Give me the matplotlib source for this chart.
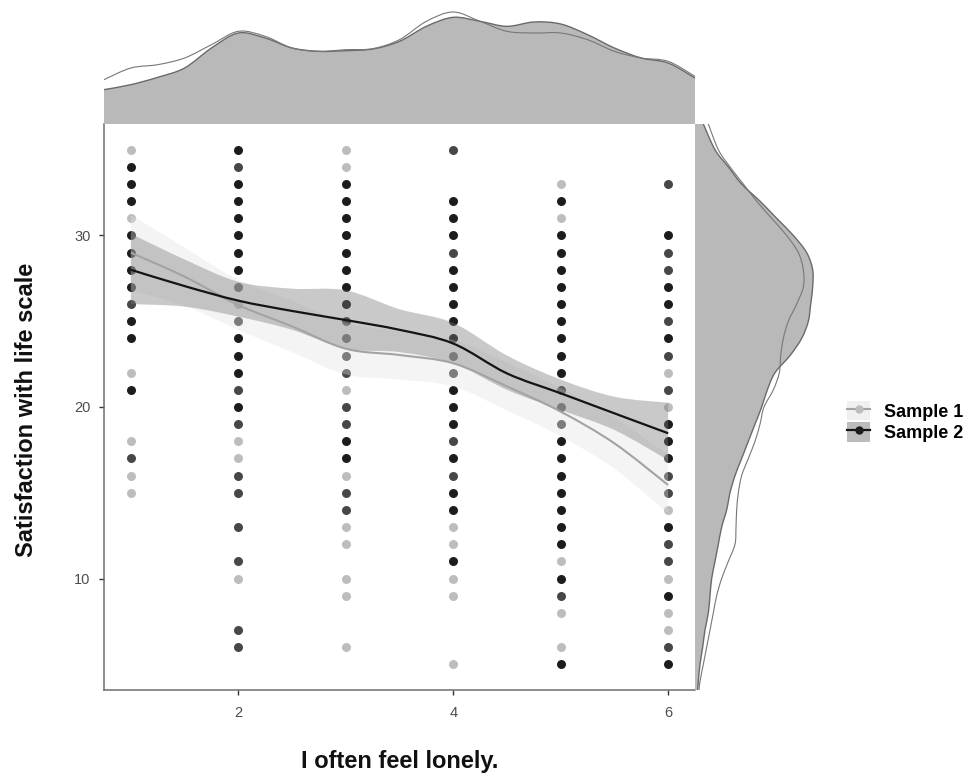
import numpy as np
import matplotlib
matplotlib.use("Agg")
import matplotlib.pyplot as plt
from matplotlib.lines import Line2D
from matplotlib.patches import Patch, PathPatch
from matplotlib.path import Path
from matplotlib.legend_handler import HandlerTuple

plt.rcParams['font.family'] = ['Liberation Sans', 'DejaVu Sans']

# answers on the "I often feel lonely." item (1-6) vs. SWLS score
# light = Sample 1 only, dark / mid = Sample 2 (many / few respondents)
s1_light = {
    1: [35, 31, 22, 18, 16, 15],
    2: [26, 18, 17, 10],
    3: [35, 34, 21, 16, 13, 12, 10, 9, 6],
    4: [13, 12, 10, 9, 5],
    5: [33, 31, 11, 8, 6],
    6: [22, 20, 14, 10, 8, 7],
}
s2_dark = {
    1: [34, 33, 32, 30, 29, 28, 27, 25, 24, 21],
    2: [35, 33, 32, 31, 30, 29, 28, 24, 23, 22, 20],
    3: [33, 32, 31, 30, 29, 28, 27, 26, 18, 17],
    4: [32, 31, 30, 28, 27, 26, 25, 24, 21, 20, 19, 17, 15, 14, 11],
    5: [32, 30, 29, 28, 27, 26, 25, 24, 23, 22, 18, 17, 16, 15, 14, 13, 12, 10, 5],
    6: [30, 27, 26, 24, 19, 18, 17, 13, 9, 5],
}
s2_mid = {
    1: [26, 17],
    2: [34, 27, 25, 21, 19, 16, 15, 13, 11, 7, 6],
    3: [25, 24, 23, 22, 20, 19, 15, 14],
    4: [35, 29, 23, 22, 18, 16],
    5: [21, 20, 19, 9],
    6: [33, 29, 28, 25, 23, 21, 16, 15, 12, 11, 6],
}

# loess fits with confidence bands
smooth_x = [1, 1.5, 2, 2.5, 3, 3.5, 4, 4.5, 5, 5.5, 6]
s1_fit = [29.0, 27.6, 25.95, 24.7, 23.4, 23.03, 22.55, 21.2, 19.73, 17.88, 15.45]
s1_hi = [31.2, 29.3, 27.4, 26.2, 24.9, 24.4, 23.9, 22.6, 21.1, 19.4, 17.2]
s1_lo = [26.8, 25.9, 24.5, 23.2, 21.9, 21.6, 21.2, 19.8, 18.3, 16.4, 13.8]
s2_fit = [28.0, 27.05, 26.2, 25.6, 25.07, 24.5, 23.7, 21.96, 20.8, 19.63, 18.47]
s2_hi = [30.1, 28.6, 27.3, 26.9, 26.8, 25.7, 24.9, 23.0, 21.6, 20.6, 20.25]
s2_lo = [26.0, 25.85, 25.27, 24.5, 23.4, 23.2, 22.55, 21.0, 19.83, 18.66, 16.9]

# marginal densities (relative heights)
top_x = [0.75, 1.0, 1.25, 1.5, 1.75, 2.0, 2.25, 2.5, 2.75, 3.0, 3.25, 3.5,
         3.75, 4.0, 4.25, 4.5, 4.75, 5.0, 5.25, 5.5, 5.75, 6.0, 6.25]
top_filled = [103, 118, 140, 168, 228, 273, 258, 228, 218, 220, 225, 248,
              293, 320, 308, 293, 306, 300, 268, 228, 198, 183, 138]
top_line = [133, 168, 178, 198, 238, 278, 263, 228, 218, 223, 226, 253,
            308, 336, 308, 278, 273, 273, 253, 218, 198, 188, 143]

right_y = [36.5, 35, 34, 33, 32, 31, 30, 29, 28, 27, 26, 25, 24, 23, 22, 21, 20,
           19, 18, 17, 16, 15, 14, 13, 12, 11, 10, 9, 8, 7, 6, 5, 4, 3.5]
right_filled = [25, 60, 100, 140, 195, 245, 295, 335, 353, 353, 347, 340, 320, 285,
                240, 217, 200, 180, 160, 140, 120, 105, 95, 80, 70, 60, 50, 45, 40,
                30, 23, 15, 10, 8]
right_line = [40, 70, 105, 145, 185, 230, 275, 310, 325, 325, 305, 280, 265, 257,
              253, 235, 207, 195, 180, 160, 140, 130, 125, 123, 120, 100, 80, 65, 55,
              45, 35, 25, 15, 12]


def curve(xs, ys, start=True):
    # Catmull-Rom through the read points, as cubic Bezier segments
    p = np.column_stack([xs, ys]).astype(float)
    verts = [p[0]]
    codes = [Path.MOVETO if start else Path.LINETO]
    n = len(p)
    for i in range(n - 1):
        p0 = p[i - 1] if i > 0 else p[i]
        p3 = p[i + 2] if i + 2 < n else p[i + 1]
        verts += [p[i] + (p[i + 1] - p0) / 6, p[i + 1] - (p3 - p[i]) / 6, p[i + 1]]
        codes += [Path.CURVE4] * 3
    return verts, codes


def line_path(xs, ys):
    v, c = curve(xs, ys)
    return Path(v, c)


def band_path(xs, lo, hi):
    v1, c1 = curve(xs, hi)
    v2, c2 = curve(xs[::-1], lo[::-1], start=False)
    return Path(v1 + v2 + [v1[0]], c1 + c2 + [Path.CLOSEPOLY])


def area_path(xs, ys, flip=False):
    if flip:
        v, c = curve(ys, xs)
        v = v + [(0, xs[-1]), (0, xs[0]), v[0]]
    else:
        v, c = curve(xs, ys)
        v = v + [(xs[-1], 0), (xs[0], 0), v[0]]
    return Path(v, c + [Path.LINETO, Path.LINETO, Path.CLOSEPOLY])


W, H = 973, 773
fig = plt.figure(figsize=(W / 100, H / 100), dpi=100)


def px_axes(l, t, r, b):
    return fig.add_axes([l / W, 1 - b / H, (r - l) / W, (b - t) / H])


ax = px_axes(104, 124, 695, 690)
ax_top = px_axes(104, 3, 695, 124)
ax_right = px_axes(695, 124, 835, 690)

# points
for x, vals in s1_light.items():
    ax.scatter([x] * len(vals), vals, s=42, color='#bdbdbd', linewidths=0, zorder=2)
for x, vals in s2_mid.items():
    ax.scatter([x] * len(vals), vals, s=42, color='#474747', linewidths=0, zorder=2)
for x, vals in s2_dark.items():
    ax.scatter([x] * len(vals), vals, s=42, color='#1c1c1c', linewidths=0, zorder=2)

# smoothers
ax.add_patch(PathPatch(band_path(smooth_x, s1_lo, s1_hi), facecolor='#e0e0e0',
                       alpha=0.35, lw=0, zorder=3))
ax.add_patch(PathPatch(band_path(smooth_x, s2_lo, s2_hi), facecolor='#7a7a7a',
                       alpha=0.4, lw=0, zorder=3))
ax.add_patch(PathPatch(line_path(smooth_x, s1_fit), facecolor='none',
                       edgecolor='#a3a3a3', lw=1.5, zorder=4))
ax.add_patch(PathPatch(line_path(smooth_x, s2_fit), facecolor='none',
                       edgecolor='#141414', lw=1.6, zorder=5))

ax.set_xlim(0.75, 6.25)
ax.set_ylim(3.5, 36.5)
ax.set_xticks([2, 4, 6])
ax.set_yticks([10, 20, 30])
for side in ['top', 'right']:
    ax.spines[side].set_visible(False)
for side in ['left', 'bottom']:
    ax.spines[side].set_color('#6e6e6e')
    ax.spines[side].set_linewidth(1.1)
ax.tick_params(axis='both', length=3.6, width=1.0, color='#333333',
               labelcolor='#4d4d4d', labelsize=10.5)
ax.tick_params(axis='x', pad=8)
ax.tick_params(axis='y', pad=6)

# top marginal
ax_top.add_patch(PathPatch(area_path(top_x, top_filled), facecolor='#b9b9b9', lw=0))
ax_top.add_patch(PathPatch(line_path(top_x, top_filled), facecolor='none',
                           edgecolor='#6a6a6a', lw=1.0))
ax_top.add_patch(PathPatch(line_path(top_x, top_line), facecolor='none',
                           edgecolor='#777777', lw=0.8))
ax_top.set_xlim(0.75, 6.25)
ax_top.set_ylim(0, 363)
ax_top.axis('off')

# right marginal
ax_right.add_patch(PathPatch(area_path(right_y, right_filled, flip=True),
                             facecolor='#b9b9b9', lw=0))
ax_right.add_patch(PathPatch(line_path(right_filled, right_y), facecolor='none',
                             edgecolor='#6a6a6a', lw=1.0))
ax_right.add_patch(PathPatch(line_path(right_line, right_y), facecolor='none',
                             edgecolor='#777777', lw=0.8))
ax_right.set_ylim(3.5, 36.5)
ax_right.set_xlim(0, 420)
ax_right.axis('off')

# axis titles
fig.text(399.5 / W, 1 - 768 / H, 'I often feel lonely.', ha='center', va='baseline',
         fontsize=17, fontweight='bold', color='#111111')
fig.text(27 / W, 1 - 410 / H, 'Satisfaction with life scale', ha='center', va='center',
         rotation=90, fontsize=17, fontweight='bold', color='#111111')

# legend
h1 = (Patch(facecolor='#f0f0f0', edgecolor='none'),
      Line2D([], [], color='#a3a3a3', lw=1.5, marker='o', markersize=6,
             markerfacecolor='#bdbdbd', markeredgewidth=0))
h2 = (Patch(facecolor='#bcbcbc', edgecolor='none'),
      Line2D([], [], color='#141414', lw=1.6, marker='o', markersize=6,
             markerfacecolor='#1c1c1c', markeredgewidth=0))
fig.legend([h1, h2], ['Sample 1', 'Sample 2'],
           handler_map={tuple: HandlerTuple(ndivide=1, pad=0)},
           loc='center left', bbox_to_anchor=(847 / W, 1 - 421.5 / H),
           frameon=False, prop={'size': 13, 'weight': 'bold'},
           handlelength=1.3, handleheight=1.3, handletextpad=0.75,
           labelspacing=0.1, borderpad=0, borderaxespad=0)

fig.savefig('out.png', dpi=100)
